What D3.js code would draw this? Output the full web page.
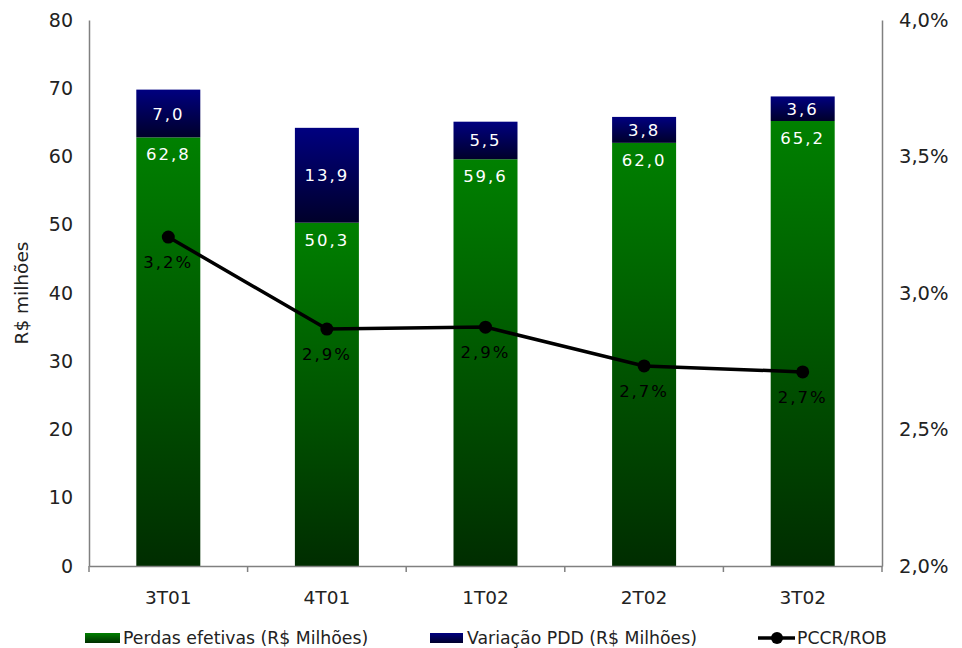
<!DOCTYPE html>
<html><head><meta charset="utf-8">
<script src="https://cdn.jsdelivr.net/npm/d3@7"></script>
<style>body{margin:0;background:#fff}svg{display:block}</style>
</head><body>
<svg id="c" width="962" height="648"></svg>
<script>
const categories = ["3T01","4T01","1T02","2T02","3T02"];
const perdas = [62.8, 50.3, 59.6, 62.0, 65.2];
const variacao = [7.0, 13.9, 5.5, 3.8, 3.6];
const pccr = [3.205, 2.868, 2.875, 2.733, 2.711];
const pccrLabels = ["3,2%","2,9%","2,9%","2,7%","2,7%"];
const leftTicks = [0,10,20,30,40,50,60,70,80];
const rightTicks = [2.0,2.5,3.0,3.5,4.0];

const svg = d3.select("#c");
const L = 89, R = 882, T = 20, B = 566;
const fmt = v => v.toFixed(1).replace(".", ",");

const x = d3.scaleBand().domain(categories).range([L, R]).paddingInner(0).paddingOuter(0);
const y = d3.scaleLinear().domain([0, 80]).range([B, T]);
const y2 = d3.scaleLinear().domain([2, 4]).range([B, T]);

const defs = svg.append("defs");
const gg = defs.append("linearGradient").attr("id","gGreen").attr("x1",0).attr("y1",0).attr("x2",0).attr("y2",1);
gg.append("stop").attr("offset","0%").attr("stop-color","#008000");
gg.append("stop").attr("offset","100%").attr("stop-color","#002d00");
const gb = defs.append("linearGradient").attr("id","gBlue").attr("x1",0).attr("y1",0).attr("x2",0).attr("y2",1);
gb.append("stop").attr("offset","0%").attr("stop-color","#000080");
gb.append("stop").attr("offset","100%").attr("stop-color","#00002a");

const font = "'DejaVu Sans', Verdana, sans-serif";
const bw = 64;
const cx = d => x(d) + x.bandwidth()/2;

// bars
svg.append("g").selectAll("rect").data(categories).join("rect")
  .attr("x", d => cx(d) - bw/2).attr("width", bw)
  .attr("y", (d,i) => y(perdas[i])).attr("height", (d,i) => B - y(perdas[i]))
  .attr("fill","url(#gGreen)");
svg.append("g").selectAll("rect").data(categories).join("rect")
  .attr("x", d => cx(d) - bw/2).attr("width", bw)
  .attr("y", (d,i) => y(perdas[i]+variacao[i])).attr("height", (d,i) => y(perdas[i]) - y(perdas[i]+variacao[i]))
  .attr("fill","url(#gBlue)");

// axes
const axisColor = "#808080";
const ax = svg.append("g").attr("transform",`translate(0,${B})`)
  .call(d3.axisBottom(x).tickSize(0).tickFormat(""));
ax.select(".domain").attr("stroke",axisColor).attr("stroke-width",1.5);
svg.append("g").selectAll("line").data(d3.range(categories.length+1)).join("line")
  .attr("x1", i => L + i*x.bandwidth()).attr("x2", i => L + i*x.bandwidth())
  .attr("y1", B).attr("y2", B+6).attr("stroke",axisColor).attr("stroke-width",1.5);
svg.append("g").selectAll("text").data(categories).join("text")
  .attr("x", d => cx(d)).attr("y", B+38).attr("text-anchor","middle")
  .attr("font-family",font).attr("font-size",18.5).attr("fill","#222").text(d => d);

const ay = svg.append("g").attr("transform",`translate(${L},0)`)
  .call(d3.axisLeft(y).tickValues(leftTicks).tickSize(0).tickPadding(16));
ay.select(".domain").attr("stroke",axisColor).attr("stroke-width",1.5);
ay.selectAll("text").attr("font-family",font).attr("font-size",19).attr("fill","#222");

const ay2 = svg.append("g").attr("transform",`translate(${R},0)`)
  .call(d3.axisRight(y2).tickValues(rightTicks).tickSize(0).tickPadding(17)
    .tickFormat(v => v.toFixed(1).replace(".",",") + "%"));
ay2.select(".domain").attr("stroke",axisColor).attr("stroke-width",1.5);
ay2.selectAll("text").attr("font-family",font).attr("font-size",19.5).attr("fill","#222");

svg.append("text").attr("transform",`translate(28,${(T+B)/2}) rotate(-90)`)
  .attr("text-anchor","middle").attr("font-family",font).attr("font-size",18.5).attr("fill","#222")
  .text("R$ milhões");

// bar labels
svg.append("g").selectAll("text").data(categories).join("text")
  .attr("x", d => cx(d)).attr("y", (d,i) => y(perdas[i]) + 23)
  .attr("text-anchor","middle").attr("font-family",font).attr("font-size",16.5)
  .attr("letter-spacing",2).attr("fill","#fff").text((d,i) => fmt(perdas[i]));
svg.append("g").selectAll("text").data(categories).join("text")
  .attr("x", d => cx(d)).attr("y", (d,i) => (y(perdas[i]) + y(perdas[i]+variacao[i]))/2 + 6)
  .attr("text-anchor","middle").attr("font-family",font).attr("font-size",16.5)
  .attr("letter-spacing",2).attr("fill","#fff").text((d,i) => fmt(variacao[i]));

// line
const line = d3.line().x((d,i) => cx(categories[i])).y(d => y2(d));
svg.append("path").datum(pccr).attr("d", line).attr("fill","none")
  .attr("stroke","#000").attr("stroke-width",3.5);
svg.append("g").selectAll("circle").data(pccr).join("circle")
  .attr("cx",(d,i) => cx(categories[i])).attr("cy", d => y2(d)).attr("r",6.5).attr("fill","#000");
svg.append("g").selectAll("text").data(pccr).join("text")
  .attr("x",(d,i) => cx(categories[i])).attr("y", d => y2(d) + 31)
  .attr("text-anchor","middle").attr("font-family",font).attr("font-size",16.5)
  .attr("letter-spacing",2).attr("fill","#000").text((d,i) => pccrLabels[i]);

// legend
const lfs = 17.3;
const leg = svg.append("g");
leg.append("rect").attr("x",85).attr("y",633).attr("width",35).attr("height",10).attr("fill","url(#gGreen)");
leg.append("text").attr("x",123).attr("y",644).attr("font-family",font).attr("font-size",lfs).attr("fill","#222").text("Perdas efetivas (R$ Milhões)");
leg.append("rect").attr("x",430).attr("y",633).attr("width",33).attr("height",10).attr("fill","url(#gBlue)");
leg.append("text").attr("x",467).attr("y",644).attr("font-family",font).attr("font-size",lfs).attr("fill","#222").text("Variação PDD (R$ Milhões)");
leg.append("line").attr("x1",758).attr("x2",795).attr("y1",638).attr("y2",638).attr("stroke","#000").attr("stroke-width",3.5);
leg.append("circle").attr("cx",777).attr("cy",638).attr("r",6).attr("fill","#000");
leg.append("text").attr("x",797).attr("y",644).attr("font-family",font).attr("font-size",lfs).attr("fill","#222").text("PCCR/ROB");
</script>
</body></html>
